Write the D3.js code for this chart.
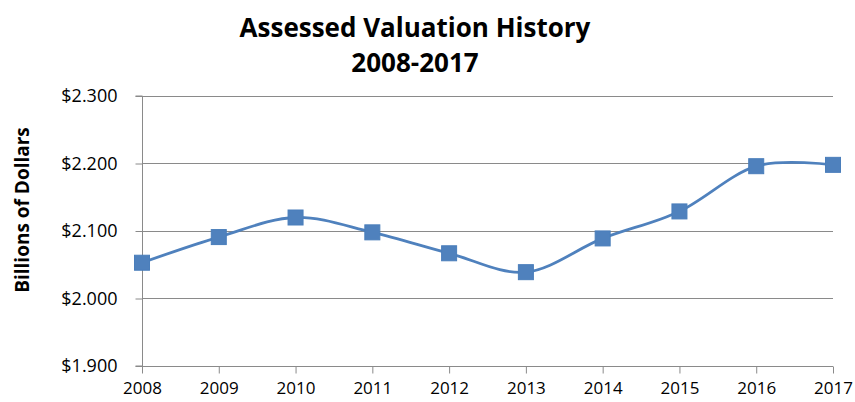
<!DOCTYPE html>
<html>
<head>
<meta charset="utf-8">
<script src="https://cdn.jsdelivr.net/npm/d3@7"></script>
<style>
  body { margin: 0; background: #fff; }
  svg { display: block; }
  text { font-family: "Open Sans", "Liberation Sans", sans-serif; fill: #000; }
</style>
</head>
<body>
<div id="chart"></div>
<script>
const years = ["2008", "2009", "2010", "2011", "2012", "2013", "2014", "2015", "2016", "2017"];
const valuation = [2.053, 2.091, 2.120, 2.098, 2.067, 2.039, 2.089, 2.129, 2.196, 2.198];
const yTicks = [1.9, 2.0, 2.1, 2.2, 2.3];

const W = 855, H = 402;
const margin = { top: 96, right: 22, bottom: 36, left: 142 };
const width = W - margin.left - margin.right;
const height = H - margin.top - margin.bottom;
const blue = "#4F81BD";

const svg = d3.select("#chart")
  .append("svg")
  .attr("width", W)
  .attr("height", H);

const g = svg.append("g")
  .attr("transform", `translate(${margin.left},${margin.top})`);

const x = d3.scalePoint()
  .domain(years)
  .range([0, width]);

const y = d3.scaleLinear()
  .domain([1.9, 2.3])
  .range([height, 0]);

// gridlines
g.selectAll(".grid")
  .data(yTicks.slice(1))
  .enter()
  .append("line")
  .attr("x1", 0)
  .attr("x2", width)
  .attr("y1", d => Math.round(y(d)) + 0.5)
  .attr("y2", d => Math.round(y(d)) + 0.5)
  .attr("stroke", "#8a8a8a")
  .attr("stroke-width", 1);

const yAxis = d3.axisLeft(y)
  .tickValues(yTicks)
  .tickSize(7)
  .tickPadding(18)
  .tickFormat(d => "$" + d3.format(".3f")(d));

const xAxis = d3.axisBottom(x)
  .tickSize(7)
  .tickPadding(8);

const gy = g.append("g").attr("transform", "translate(0.5,0)").call(yAxis);
const gx = g.append("g").attr("transform", `translate(0,${height + 0.5})`).call(xAxis);

[gy, gx].forEach(a => {
  a.select(".domain").attr("stroke", "#8a8a8a");
  a.selectAll(".tick line").attr("stroke", "#8a8a8a");
  a.selectAll("text")
    .style("font-family", "'Open Sans', sans-serif")
    .style("font-size", "18px")
    .attr("fill", "#000");
});
gx.selectAll("text").style("font-size", "17px");
gy.select(".domain").attr("d", `M-7,0H0V${height}H-7`);
gx.select(".domain").attr("d", `M0,0H${width}`);

// smoothed line
const line = d3.line()
  .x((d, i) => x(years[i]))
  .y(d => y(d))
  .curve(d3.curveCardinal.tension(0));

g.append("path")
  .datum(valuation)
  .attr("fill", "none")
  .attr("stroke", blue)
  .attr("stroke-width", 2.8)
  .attr("d", line);

const s = 15;
g.selectAll(".marker")
  .data(valuation)
  .enter()
  .append("rect")
  .attr("class", "marker")
  .attr("x", (d, i) => x(years[i]) - s / 2)
  .attr("y", d => y(d) - s / 2)
  .attr("width", s)
  .attr("height", s)
  .attr("fill", blue)
  .attr("stroke", "#4a7ebb")
  .attr("stroke-width", 1);

// titles
svg.append("text")
  .attr("x", 415)
  .attr("y", 37)
  .attr("text-anchor", "middle")
  .style("font-size", "26px")
  .style("font-weight", "bold")
  .text("Assessed Valuation History");

svg.append("text")
  .attr("x", 415)
  .attr("y", 72)
  .attr("text-anchor", "middle")
  .style("font-size", "26px")
  .style("font-weight", "bold")
  .text("2008-2017");

svg.append("text")
  .attr("transform", "translate(29,210) rotate(-90)")
  .attr("text-anchor", "middle")
  .style("font-size", "19px")
  .style("font-weight", "bold")
  .text("Billions of Dollars");
</script>
</body>
</html>
